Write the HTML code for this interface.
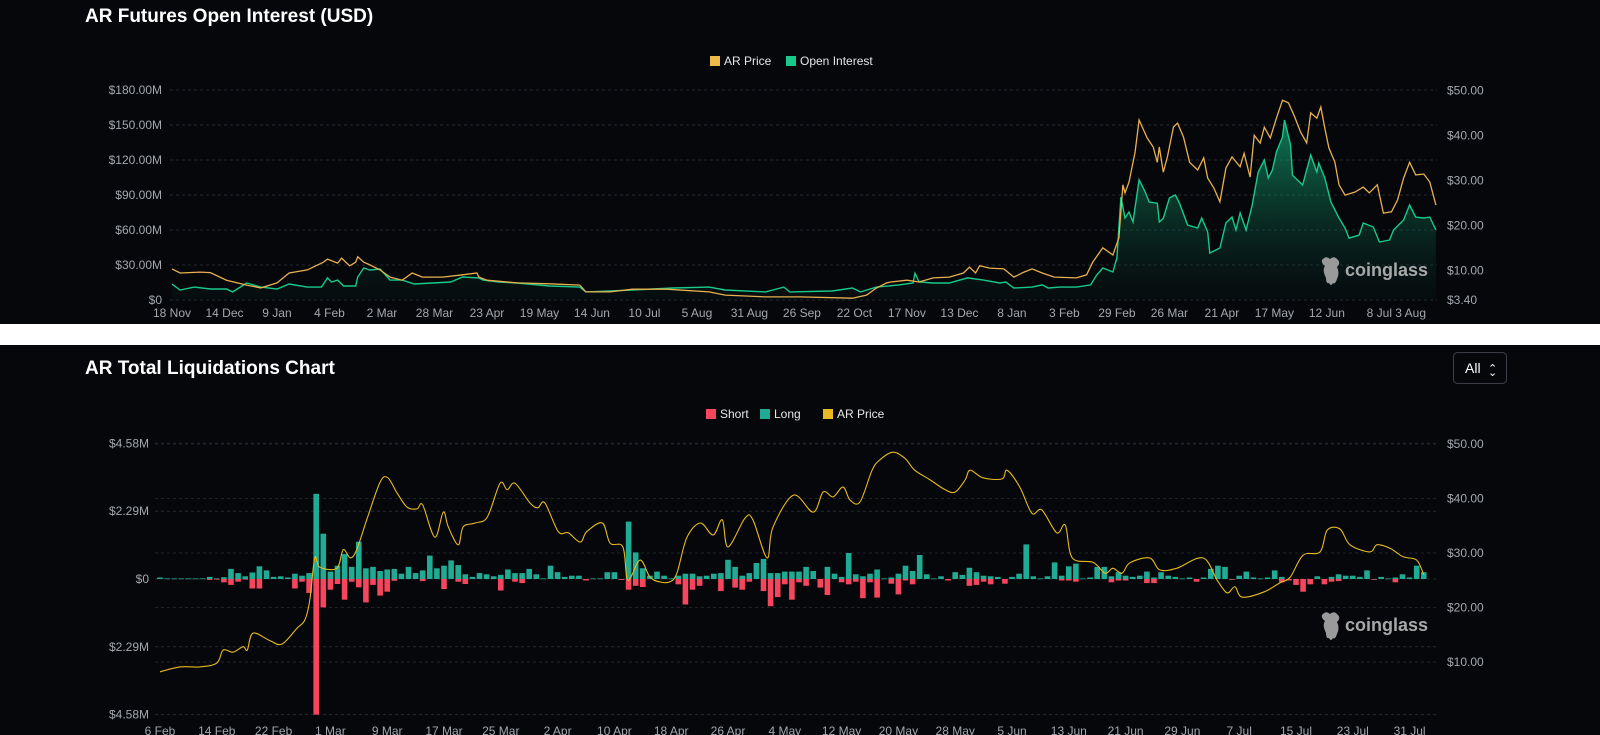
<!DOCTYPE html>
<html><head><meta charset="utf-8">
<style>
html,body{margin:0;padding:0;background:#05070b;width:1600px;height:735px;overflow:hidden;}
svg{display:block;font-family:"Liberation Sans",sans-serif;}
</style></head>
<body>
<svg id="root" width="1600" height="735" viewBox="0 0 1600 735" xmlns="http://www.w3.org/2000/svg">
<defs>
<linearGradient id="oiFill" x1="0" y1="0" x2="0" y2="1">
<stop offset="0" stop-color="#17c98a" stop-opacity="0.6"/>
<stop offset="1" stop-color="#0b2a20" stop-opacity="0.15"/>
</linearGradient>
</defs>
<rect x="0" y="0" width="1600" height="735" fill="#05070b"/>
<rect x="0" y="324" width="1600" height="21" fill="#ffffff"/>
<text x="85" y="22" fill="#ffffff" font-size="19" font-weight="bold">AR Futures Open Interest (USD)</text>
<text x="85" y="374" fill="#ffffff" font-size="19" font-weight="bold">AR Total Liquidations Chart</text>
<g>
<rect x="1453.5" y="352.5" width="53" height="31" rx="4" fill="#05070b" stroke="#3a3f47"/>
<text x="1465" y="373" fill="#ffffff" font-size="14">All</text>
<text x="1488" y="372" fill="#ffffff" font-size="11">⌃</text>
<text x="1488" y="376" fill="#ffffff" font-size="11">⌄</text>
</g>
<g>
<g><rect x="710" y="56" width="10" height="10" fill="#f0b94c"/><text x="724" y="65" fill="#e6e6e6" font-size="12">AR Price</text></g>
<g><rect x="786" y="56" width="10" height="10" fill="#17c98a"/><text x="800" y="65" fill="#e6e6e6" font-size="12">Open Interest</text></g>
</g>
<g>
<g><rect x="706" y="409" width="10" height="10" fill="#f6465d"/><text x="720" y="418" fill="#e6e6e6" font-size="12">Short</text></g>
<g><rect x="760" y="409" width="10" height="10" fill="#22ab94"/><text x="774" y="418" fill="#e6e6e6" font-size="12">Long</text></g>
<g><rect x="823" y="409" width="10" height="10" fill="#e8b923"/><text x="837" y="418" fill="#e6e6e6" font-size="12">AR Price</text></g>
</g>
<g id="topChart"></g>
<g id="botChart"></g>
</svg>
<script>
// ---------- Top chart data ----------
const topXLabels = ["18 Nov","14 Dec","9 Jan","4 Feb","2 Mar","28 Mar","23 Apr","19 May","14 Jun","10 Jul","5 Aug","31 Aug","26 Sep","22 Oct","17 Nov","13 Dec","8 Jan","3 Feb","29 Feb","26 Mar","21 Apr","17 May","12 Jun","8 Jul","3 Aug"];
const topLeftTicks = [0,30,60,90,120,150,180];
const topLeftLabels = ["$0","$30.00M","$60.00M","$90.00M","$120.00M","$150.00M","$180.00M"];
const topRightTicks = [3.4,10,20,30,40,50];
const topRightLabels = ["$3.40","$10.00","$20.00","$30.00","$40.00","$50.00"];
const priceDays = [0,4,14,19,27,37,44,52,58,67,75,77,82,84,88,91,92,95,98,103,108,114,119,124,134,144,151,152,156,171,187,202,205,217,228,245,266,274,294,311,337,344,349,354,356,364,370,377,385,392,395,398,400,405,412,417,422,426,431,437,448,453,456,461,466,469,471,472,474,477,479,483,486,488,489,491,493,496,498,501,504,508,511,513,516,519,522,525,529,531,534,536,539,541,544,547,550,553,556,559,562,564,567,569,571,573,576,578,581,586,590,593,597,600,604,607,610,613,616,620,623,626];
const priceVals = [10.3,9.4,9.6,9.5,7.8,6.7,6.1,7.2,9.4,10.1,11.8,12.5,11.6,12.7,11.0,11.8,13.0,11.8,11.2,10.1,8.5,7.8,9.4,8.5,8.5,9.0,9.4,8.5,7.8,7.2,7.0,6.7,5.2,5.2,5.8,5.8,5.2,4.5,4.1,4.1,3.8,4.5,6.1,7.2,7.4,7.8,7.4,8.3,8.5,9.4,10.7,9.4,11.0,10.5,10.3,8.5,9.6,10.3,9.4,8.5,8.3,9.0,11.8,15.0,13.4,17.2,29.0,27.2,29.6,36.3,43.4,39.4,37.4,34.0,37.4,31.8,35.2,41.8,42.7,39.6,34.0,32.3,35.0,30.5,28.3,25.2,32.7,35.2,33.0,36.0,30.7,40.0,38.3,41.8,39.4,43.8,47.8,47.2,44.1,40.7,38.3,45.0,43.8,46.3,41.6,37.2,34.0,29.0,26.7,27.4,28.5,27.2,29.0,22.7,23.0,25.6,30.5,34.0,31.2,31.4,29.6,24.5];
const oiDays = [0,4,11,19,27,30,37,44,52,58,67,74,77,79,82,85,91,92,95,98,103,108,114,120,129,138,144,152,154,162,171,187,202,205,217,228,248,266,274,294,303,306,327,337,341,349,360,367,368,370,377,385,394,402,410,413,417,426,431,434,440,448,455,458,461,466,468,470,472,474,476,479,482,484,488,489,491,494,497,499,503,508,510,513,514,519,522,525,527,529,532,535,538,541,543,545,547,550,551,554,555,560,564,567,568,571,574,578,581,583,588,590,595,598,603,605,610,613,616,620,623,626];
const oiVals = [13.7,8.6,11.1,9.4,9.4,6.9,14.6,11.1,9.4,13.7,11.1,11.1,18.9,15.4,17.1,12.0,12.0,19.7,27.4,25.7,26.6,17.1,17.1,13.7,14.6,15.4,19.7,18.9,17.1,15.4,14.6,12.0,11.1,6.9,7.7,8.6,10.3,11.1,8.6,6.9,11.1,6.9,7.7,10.3,6.9,11.1,12.9,14.6,23.0,15.4,14.6,14.6,18.9,17.1,14.6,15.4,10.3,11.1,12.9,10.3,11.1,11.1,12.9,21.4,27.4,24.0,36.0,88.3,70.3,75.4,66.9,103.0,92.6,84.0,83.0,66.9,70.0,87.4,90.0,83.0,64.3,61.7,70.3,58.3,40.3,44.6,66.0,71.1,60.0,74.6,60.0,81.4,109.7,120.0,104.6,111.4,126.9,139.7,154.3,132.9,107.0,98.6,124.3,109.7,117.4,104.6,84.0,70.3,61.7,53.1,55.7,66.0,62.6,49.7,51.4,60.0,68.6,81.4,71.1,70.3,71.1,60.0];

// ---------- Bottom chart data ----------
const botXLabels = ["6 Feb","14 Feb","22 Feb","1 Mar","9 Mar","17 Mar","25 Mar","2 Apr","10 Apr","18 Apr","26 Apr","4 May","12 May","20 May","28 May","5 Jun","13 Jun","21 Jun","29 Jun","7 Jul","15 Jul","23 Jul","31 Jul"];
const botLeftTicks = [-4.58,-2.29,0,2.29,4.58];
const botLeftLabels = ["$4.58M","$2.29M","$0","$2.29M","$4.58M"];
const botRightTicks = [10,20,30,40,50];
const botRightLabels = ["$10.00","$20.00","$30.00","$40.00","$50.00"];
const longVals = [.05,.02,.02,.02,.02,.02,.02,.07,.02,.06,.34,.2,.09,.22,.43,.29,.07,.09,.05,.18,.11,.2,2.88,1.53,.25,.45,.84,.41,1.26,.36,.41,.27,.32,.34,.18,.41,.2,.29,.79,.36,.45,.63,.47,.16,.07,.2,.16,.09,.14,.32,.2,.2,.34,.16,.02,.45,.23,.07,.11,.11,0,.02,.02,.23,.23,0,1.94,.9,.36,.11,.25,.11,.02,.11,.18,.18,.09,.11,.18,.2,.65,.41,.11,.2,.54,.68,.2,.2,.25,.25,.25,.41,.27,0,.41,.18,.07,.88,.16,.09,.18,.32,.02,.05,.18,.45,.27,.81,.16,.02,.09,0,.23,.14,.38,.23,.11,.09,.07,0,.07,.18,1.17,.09,.02,.09,.56,.11,.43,.52,.02,.05,.41,.41,.09,.23,.11,.07,.11,.25,.05,.23,.11,.07,.02,.05,0,.05,.34,.45,.41,0,.11,.25,.05,.02,.05,.29,.07,0,0,0,0,.09,0,.07,.16,.11,.11,.07,.29,0,.07,.02,.05,.16,.05,.45,.23];
const shortVals = [0,0,0,0,0,0,0,.03,.02,.11,.2,.09,.02,.32,.32,0,0,0,0,.32,.09,.47,4.58,.96,.36,.17,.7,.09,.28,.79,.2,.56,.43,.06,0,0,0,.07,0,0,.34,0,.09,.17,0,0,0,0,.39,0,.09,.14,0,0,0,0,0,0,0,0,.05,0,0,0,0,.03,.36,.23,.27,0,0,0,0,.18,.86,.36,.23,0,0,.41,0,.29,.36,.09,0,.41,.92,.61,.18,.7,.11,.23,0,.29,.54,0,.11,.18,.09,.65,.11,.63,0,.16,.52,.05,.18,0,0,0,0,.05,0,0,.23,.2,.09,.18,0,.16,0,0,0,0,0,0,0,.05,.05,.09,0,0,0,0,.11,.05,.05,0,0,.14,.14,0,0,0,0,0,.09,0,0,0,0,.02,0,0,0,0,0,0,.11,.05,.2,.43,.18,0,.18,.09,.07,0,0,0,0,.02,0,0,.11,0,0,0,0];
const liqPriceDays = [0,2.8,5.6,8.0,8.9,10.3,11.7,12.3,13.1,15.5,17.2,19.3,20.4,21.1,21.8,22.5,24.9,25.8,26.8,27.7,29.2,31.0,32.1,33.4,34.8,36.2,37.0,38.7,39.9,40.6,42.0,42.7,44.4,46.1,47.9,48.9,50.0,52.1,53.2,54.2,56.1,57.5,59.2,60.1,62.3,63.4,65.2,65.9,67.6,69.0,70.4,71.8,72.8,74.2,76.1,77.9,79.2,80.0,82.4,83.5,85.5,86.3,89.2,92.0,93.4,94.8,96.2,97.2,98.6,100.3,101.4,103.2,104.9,106.3,108.5,110.6,112.0,113.4,114.1,115.9,118.6,119.3,121.1,122.8,124.2,126.3,127.5,128.5,131.4,133.1,134.2,135.5,136.6,139.4,140.8,143.2,146.9,148.9,150.3,151.4,152.4,155.4,157.7,159.2,161.0,163.4,164.4,166.2,167.6,170.4,171.4,173.2,175.1,177.0,178.0];
const liqPriceVals = [8.2,9.1,9.1,9.8,12.2,11.8,12.8,12.2,15.3,13.9,13.3,16.2,17.7,21.4,29.1,27.4,27.2,30.6,29.1,30.6,36.4,43.0,43.8,41.0,38.4,38.1,38.8,32.9,37.5,34.8,31.5,34.8,35.5,36.6,42.8,41.6,42.8,39.2,38.3,39.2,33.9,33.7,32.0,33.9,35.5,31.8,31.1,25.0,28.7,25.6,24.7,24.7,26.3,32.8,35.5,33.3,36.1,31.1,36.4,36.1,29.1,34.6,40.6,37.5,41.2,40.3,42.1,39.7,39.4,45.2,47.1,48.5,47.4,45.2,43.4,41.6,41.2,43.4,45.2,43.8,43.6,45.2,42.1,37.3,37.9,33.7,35.1,29.1,28.3,26.3,27.2,26.3,28.2,29.1,26.9,27.2,29.1,25.0,22.7,23.8,21.9,22.8,24.5,25.6,29.6,30.2,34.2,34.4,31.5,30.2,31.5,30.9,29.3,28.7,26.0];

// ---------- axis functions ----------
const topX = d => 172 + d * 2.019;
const topYL = m => 300 - m * 35 / 30;
const topYR = v => 300 - (v - 3.4) * 4.5;
const botX = d => 160 + d * 7.1;
const botYL = m => 579 - m * 29.6;
const botYR = v => 444 + (50 - v) * 5.45;

const NS = "http://www.w3.org/2000/svg";
function mk(tag, attrs, parent) {
  const e = document.createElementNS(NS, tag);
  for (const k in attrs) e.setAttribute(k, attrs[k]);
  parent.appendChild(e);
  return e;
}
function smoothPath(pts) {
  let d = "M" + pts[0][0].toFixed(1) + "," + pts[0][1].toFixed(1);
  for (let i = 0; i < pts.length - 1; i++) {
    const p0 = pts[i - 1] || pts[i], p1 = pts[i], p2 = pts[i + 1], p3 = pts[i + 2] || p2;
    const c1x = p1[0] + (p2[0] - p0[0]) / 6, c1y = p1[1] + (p2[1] - p0[1]) / 6;
    const c2x = p2[0] - (p3[0] - p1[0]) / 6, c2y = p2[1] - (p3[1] - p1[1]) / 6;
    d += "C" + c1x.toFixed(1) + "," + c1y.toFixed(1) + " " + c2x.toFixed(1) + "," + c2y.toFixed(1) + " " + p2[0].toFixed(1) + "," + p2[1].toFixed(1);
  }
  return d;
}
function watermark(parent, x, y, name) {
  const g = mk("g", {}, parent);
  
  
  mk("path", {d: `M${x},${y-9} q4,-5 8,-1 q4,-4 8,1 q3,3 -1,7 q3,6 0,12 q-2,6 -4,4 q-2,4 -4,0 q-3,1 -3,-5 q-4,-8 -1,-12 q-4,-3 -3,-6z`, fill:"#9a9a9a"}, g);
  const t = mk("text", {x: x + 23, y: y + 7, fill: "#a8a8a8", "font-size": 18, "font-weight": "bold"}, g);
  t.textContent = "coinglass";
}

// ---------- Top chart ----------
const topG = document.getElementById("topChart");


topLeftTicks.forEach((v, i) => {
  const y = topYL(v);
  const gl = mk("line", {x1: 170, x2: 1437, y1: y, y2: y, stroke: "#262a31", "stroke-dasharray": "3,3"}, topG);
  
  
  const t = mk("text", {x: 162, y: y + 4, fill: "#a4a8ae", "font-size": 12, "text-anchor": "end"}, topG);
  
  
  t.textContent = topLeftLabels[i];
});
topRightTicks.forEach((v, i) => {
  const t = mk("text", {x: 1447, y: topYR(v) + 4, fill: "#a4a8ae", "font-size": 12}, topG);
  
  
  t.textContent = topRightLabels[i];
});
topXLabels.forEach((s, i) => {
  const last = i === topXLabels.length - 1;
  const t = mk("text", {x: last ? 1426 : topX(i * 26), y: 317, fill: "#a4a8ae", "font-size": 12, "text-anchor": last ? "end" : "middle"}, topG);
  
  
  t.textContent = s;
});
{
  let d = "M" + topX(oiDays[0]) + "," + topYL(0);
  oiDays.forEach((dd, i) => { d += "L" + topX(dd).toFixed(1) + "," + topYL(oiVals[i]).toFixed(1); });
  d += "L" + topX(oiDays[oiDays.length - 1]) + "," + topYL(0) + "Z";
  const area = mk("path", {d: d, fill: "url(#oiFill)"}, topG);
  
  
  const ln = mk("polyline", {points: oiDays.map((dd, i) => topX(dd).toFixed(1) + "," + topYL(oiVals[i]).toFixed(1)).join(" "), fill: "none", stroke: "#18c98a", "stroke-width": 1.4}, topG);
  
  
  const pl = mk("polyline", {points: priceDays.map((dd, i) => topX(dd).toFixed(1) + "," + topYR(priceVals[i]).toFixed(1)).join(" "), fill: "none", stroke: "#e8b04f", "stroke-width": 1.3}, topG);
  
  
}
watermark(topG, 1322, 269, 'oi-watermark');

// ---------- Bottom chart ----------
const botG = document.getElementById("botChart");


botLeftTicks.forEach((v, i) => {
  const y = botYL(v);
  const gl = mk("line", {x1: 155, x2: 1437, y1: y, y2: y, stroke: "#262a31", "stroke-dasharray": "3,3"}, botG);
  
  
  const t = mk("text", {x: 149, y: y + 4, fill: "#a4a8ae", "font-size": 12, "text-anchor": "end"}, botG);
  
  
  t.textContent = botLeftLabels[i];
});
botRightTicks.forEach((v, i) => {
  const y = botYR(v);
  const gl = mk("line", {x1: 155, x2: 1437, y1: y, y2: y, stroke: "#1f2329", "stroke-dasharray": "3,3"}, botG);
  
  
  const t = mk("text", {x: 1447, y: y + 4, fill: "#a4a8ae", "font-size": 12}, botG);
  
  
  t.textContent = botRightLabels[i];
});
botXLabels.forEach((s, i) => {
  const t = mk("text", {x: botX(i * 8), y: 735, fill: "#a4a8ae", "font-size": 12, "text-anchor": "middle"}, botG);
  
  
  t.textContent = s;
});
watermark(botG, 1322, 624, 'liq-watermark');
longVals.forEach((v, i) => {
  const x = botX(i) - 2.8;
  const y0 = botYL(0);
  const r = mk("rect", {x: x.toFixed(1), y: botYL(v).toFixed(1), width: 5.6, height: Math.max(0.8, y0 - botYL(v)).toFixed(1), fill: "#22ab94"}, botG);
  
  
});
shortVals.forEach((v, i) => {
  if (v <= 0) return;
  const x = botX(i) - 2.8;
  const y0 = botYL(0);
  const r = mk("rect", {x: x.toFixed(1), y: y0, width: 5.6, height: (botYL(-v) - y0).toFixed(1), fill: "#f6465d"}, botG);
  
  
});
{
  const pts = liqPriceDays.map((d, i) => [botX(d), botYR(liqPriceVals[i])]);
  const p = mk("path", {d: smoothPath(pts), fill: "none", stroke: "#e8b923", "stroke-width": 1.1}, botG);
  
  
}
</script>
</body></html>
